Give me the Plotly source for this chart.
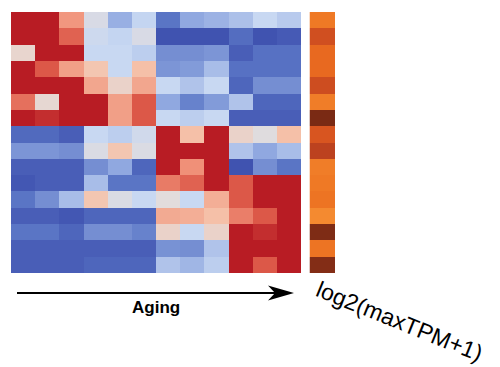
import plotly.graph_objects as go

# page body has an 8px default margin; figure is placed at (8, 8)
OX, OY = 8, 8
W, H = 492, 359

samples = [f"S{i+1}" for i in range(12)]
genes = [f"G{i+1}" for i in range(16)]

z_rows = [
    [3, 3, 1.1, -0.2, -1.1, -0.55, -2.0, -1.2, -1.05, -0.85, -0.5, -0.7],
    [3, 3, 1.85, -0.4, -0.55, -0.2, -2.9, -2.9, -2.9, -2.2, -2.9, -2.7],
    [0.15, 3, 3, -0.5, -0.5, -0.65, -1.6, -1.6, -1.5, -2.6, -2.1, -2.1],
    [3, 2.0, 1.0, 0.45, -0.5, 0.55, -1.5, -1.4, -0.9, -2.1, -2.1, -2.1],
    [3, 3, 3, 0.9, 0.2, 0.9, -0.5, -0.8, -0.5, -2.4, -1.6, -1.6],
    [1.65, 0.1, 3, 3, 1.0, 2.0, -1.2, -1.8, -1.4, -0.8, -2.4, -2.4],
    [3, 2.7, 3, 3, 1.0, 2.0, -0.5, -0.65, -0.5, -2.6, -2.6, -2.6],
    [-2.3, -2.3, -2.6, -0.5, -0.65, -0.35, 3, 0.55, 3, 0.2, -0.05, 0.55],
    [-1.5, -1.5, -1.6, -0.15, 0.45, -0.15, 3, 3, 3, -0.8, -1.2, -0.9],
    [-2.6, -2.6, -2.6, -1.6, -1.2, -2.4, 3, 1.2, 3, -2.9, -1.6, -2.0],
    [-2.8, -2.6, -2.6, -0.9, -2.0, -2.0, 1.5, 1.85, 3, 2.0, 3, 3],
    [-2.0, -1.6, -0.9, 0.45, -0.15, -0.5, 0.0, -0.5, 0.8, 2.0, 3, 3],
    [-2.6, -2.6, -2.8, -2.4, -2.4, -2.4, 0.85, 0.8, 0.55, 1.45, 2.0, 3],
    [-2.0, -2.0, -2.4, -1.6, -1.6, -1.8, 0.2, -0.5, 0.2, 3, 2.7, 3],
    [-2.6, -2.6, -2.6, -2.6, -2.6, -2.6, -1.55, -1.6, -0.8, 3, 3, 3],
    [-2.6, -2.6, -2.6, -2.4, -2.4, -2.4, -0.8, -1.0, -0.65, 3, 2.0, 3],
]

log2_max_tpm = [12.2, 9.4, 11.4, 11.4, 9.2, 12.4, 5.0, 10.0,
                8.0, 12.4, 12.2, 12.0, 13.0, 5.2, 12.0, 5.4]

z_colorscale = [
    [0.0, "#3d4fae"],
    [0.1667, "#5a75c5"],
    [0.30, "#90a8e0"],
    [0.4167, "#c8d8f2"],
    [0.5, "#e2dcdc"],
    [0.5833, "#f5c4ac"],
    [0.70, "#f09078"],
    [0.8333, "#dc5848"],
    [1.0, "#b81c24"],
]
tpm_colorscale = [
    [0.0, "#7a2a14"],
    [0.4, "#c04420"],
    [0.7, "#e05a20"],
    [0.85, "#ec7020"],
    [1.0, "#f48a30"],
]


def X(px):
    return (px - OX) / W


def Y(py):
    return 1 - (py - OY) / H


fig = go.Figure()
fig.add_trace(go.Heatmap(
    z=z_rows, x=samples, y=genes, colorscale=z_colorscale,
    zmin=-3, zmax=3, showscale=False, xaxis="x", yaxis="y",
))
fig.add_trace(go.Heatmap(
    z=[[v] for v in log2_max_tpm], x=["log2(maxTPM+1)"], y=genes,
    colorscale=tpm_colorscale, zmin=5, zmax=13, showscale=False,
    xaxis="x2", yaxis="y2",
))

ax_common = dict(showticklabels=False, showgrid=False, zeroline=False,
                 showline=False, ticks="")
fig.update_layout(
    width=W, height=H,
    margin=dict(l=0, r=0, t=0, b=0),
    paper_bgcolor="white", plot_bgcolor="white",
    xaxis=dict(domain=[X(11), X(301)], **ax_common),
    yaxis=dict(domain=[Y(273), Y(12)], autorange="reversed", **ax_common),
    xaxis2=dict(domain=[X(309.5), X(335)], anchor="y2", **ax_common),
    yaxis2=dict(domain=[Y(273), Y(12)], autorange="reversed", anchor="x2",
                **ax_common),
    font=dict(family="Liberation Sans, Arial, sans-serif", color="black"),
)

# Arrow line and head
fig.add_shape(type="line", xref="paper", yref="paper",
              x0=X(17), y0=Y(293), x1=X(278), y1=Y(293),
              line=dict(color="black", width=2))
fig.add_shape(type="path", xref="paper", yref="paper",
              path=(f"M {X(294)},{Y(293)} L {X(268)},{Y(285.5)} "
                    f"L {X(275)},{Y(293)} L {X(268)},{Y(300.5)} Z"),
              fillcolor="black", line=dict(color="black", width=0))

fig.add_annotation(text="<b>Aging</b>", xref="paper", yref="paper",
                   x=X(155.5), y=Y(307), xanchor="center", yanchor="middle",
                   showarrow=False, font=dict(size=17, color="black"))
fig.add_annotation(text="log2(maxTPM+1)", xref="paper", yref="paper",
                   x=X(399), y=Y(321), xanchor="center", yanchor="middle",
                   showarrow=False, textangle=22,
                   font=dict(size=23, color="black"))

fig.write_html("out.html")
